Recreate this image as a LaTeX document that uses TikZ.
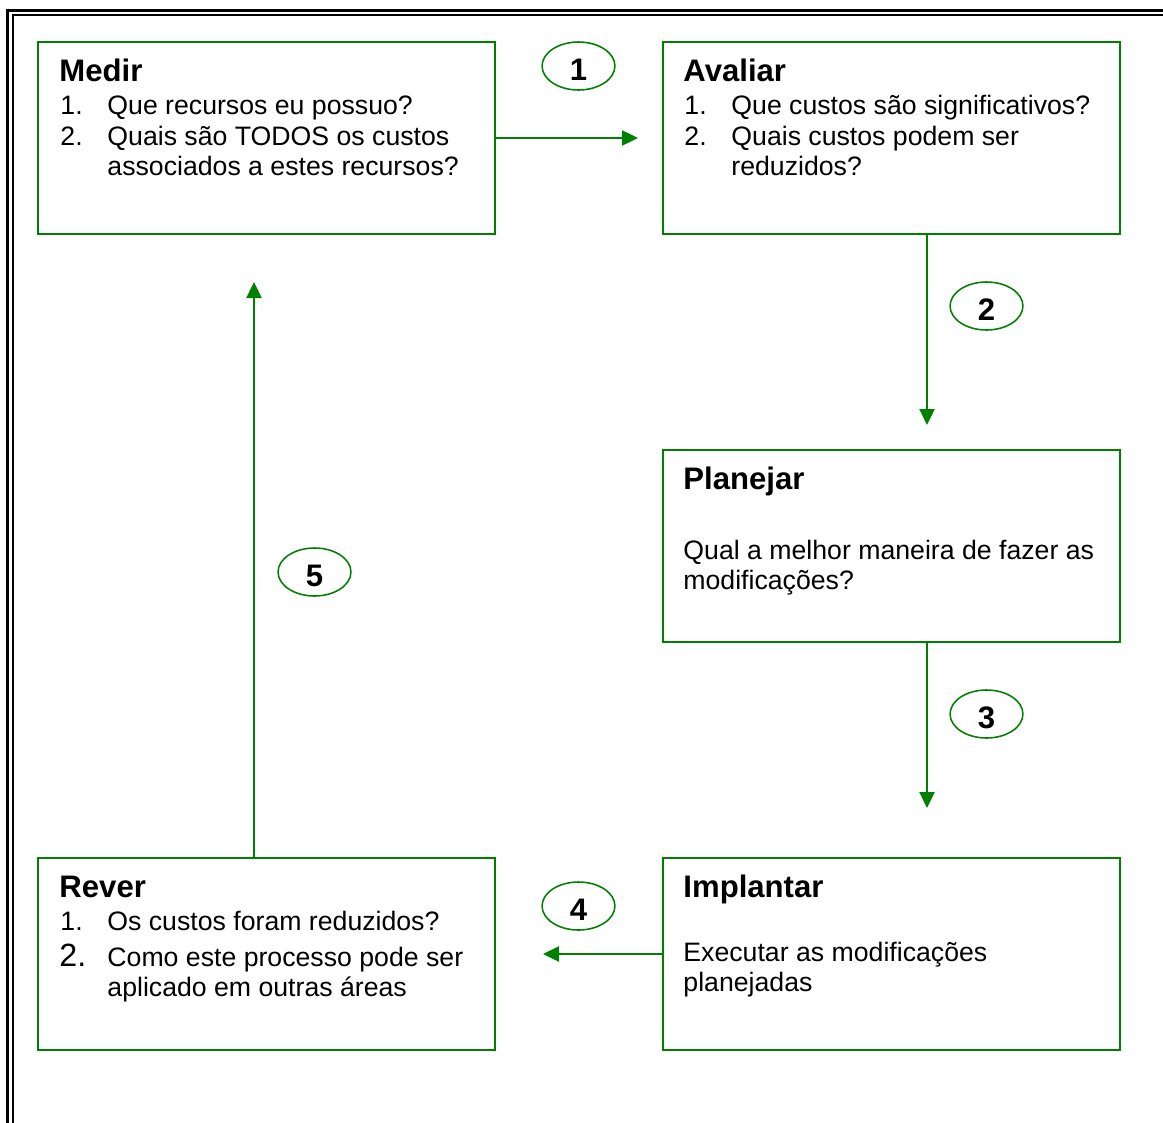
\documentclass[tikz,border=0pt]{standalone}
\usepackage{fontspec}
\setmainfont{Liberation Sans}
\usetikzlibrary{arrows.meta,shapes.geometric}
\definecolor{flowgreen}{RGB}{0,128,0}
\begin{document}
\begin{tikzpicture}[x=0.45pt,y=-0.45pt,
  stagebox/.style={draw=flowgreen,line width=0.9pt,rectangle,inner sep=0pt,
    minimum width=205.65pt,minimum height=86.4pt},
  flow/.style={draw=flowgreen,line width=0.9pt,-{Triangle[length=7.2pt,width=6.8pt]}},
  stepring/.style={draw=flowgreen,line width=0.7pt,ellipse,inner sep=0pt,
    minimum width=32.8pt,minimum height=21.6pt},
  stepnum/.style={inner sep=0pt,font=\fontsize{14}{16}\selectfont\bfseries},
  title/.style={anchor=base west,inner sep=0pt,font=\fontsize{14}{16}\selectfont\bfseries},
  txt/.style={anchor=base west,inner sep=0pt,font=\fontsize{12}{14}\selectfont},
  bignum/.style={anchor=base west,inner sep=0pt,font=\fontsize{14.5}{16}\selectfont}]
\useasboundingbox (0,0) rectangle (1163,1122);
\clip (0,0) rectangle (1163,1122);

% double page frame
\draw[line width=1.35pt] (7.5,10.5) rectangle (1200,1200);
\draw[line width=0.9pt] (12.5,15) rectangle (1190,1190);

% stage boxes
\node[stagebox] (medir) at (266.5,138) {};
\node[stagebox] (avaliar) at (891,138) {};
\node[stagebox] (planejar) at (891,545.5) {};
\node[stagebox] (implantar) at (891,954) {};
\node[stagebox] (rever) at (266.5,954) {};

% Medir
\node[title] (t1) at (59,81) {Medir};
\node[txt] (m1n) at (60,114) {1.};
\node[txt] (m1) at (107,114) {Que recursos eu possuo?};
\node[txt] (m2n) at (60,145) {2.};
\node[txt] (m2) at (107,145) {Quais são TODOS os custos};
\node[txt] (m3) at (107,175) {associados a estes recursos?};

% Avaliar
\node[title] (t2) at (683,81) {Avaliar};
\node[txt] (a1n) at (684,114) {1.};
\node[txt] (a1) at (731,114) {Que custos são significativos?};
\node[txt] (a2n) at (684,145) {2.};
\node[txt] (a2) at (731,145) {Quais custos podem ser};
\node[txt] (a3) at (731,175) {reduzidos?};

% Planejar
\node[title] (t3) at (683,489) {Planejar};
\node[txt] (p1) at (683,559) {Qual a melhor maneira de fazer as};
\node[txt] (p2) at (683,589) {modificações?};

% Implantar
\node[title] (t4) at (683,897) {Implantar};
\node[txt] (i1) at (683,961) {Executar as modificações};
\node[txt] (i2) at (683,991) {planejadas};

% Rever
\node[title] (t5) at (59,897) {Rever};
\node[txt] (r1n) at (60,930) {1.};
\node[txt] (r1) at (107,930) {Os custos foram reduzidos?};
\node[bignum] (r2n) at (59,966) {2.};
\node[txt] (r2) at (107,966) {Como este processo pode ser};
\node[txt] (r3) at (107,996) {aplicado em outras áreas};

% step numbers
\node[stepring] (n1) at (578.5,66) {};
\node[stepring] (n2) at (986.5,306) {};
\node[stepring] (n3) at (986.5,714) {};
\node[stepring] (n4) at (578.5,906) {};
\node[stepring] (n5) at (314.5,572) {};
\node[stepnum] (l1) at ([yshift=-1.6pt]n1.center) {1};
\node[stepnum] (l2) at ([yshift=-1.6pt]n2.center) {2};
\node[stepnum] (l3) at ([yshift=-1.6pt]n3.center) {3};
\node[stepnum] (l4) at ([yshift=-1.6pt]n4.center) {4};
\node[stepnum] (l5) at ([yshift=-1.6pt]n5.center) {5};

% connectors
\coordinate (e1) at (638,138);
\coordinate (e2) at (927,425);
\coordinate (e3) at (927,808);
\coordinate (e4) at (543,954);
\coordinate (e5) at (254,282);
\draw[flow] (medir.east) -- (e1);
\draw[flow] (avaliar.south -| e2) -- (e2);
\draw[flow] (planejar.south -| e3) -- (e3);
\draw[flow] (implantar.west) -- (e4);
\draw[flow] (rever.north -| e5) -- (e5);
\end{tikzpicture}
\end{document}
